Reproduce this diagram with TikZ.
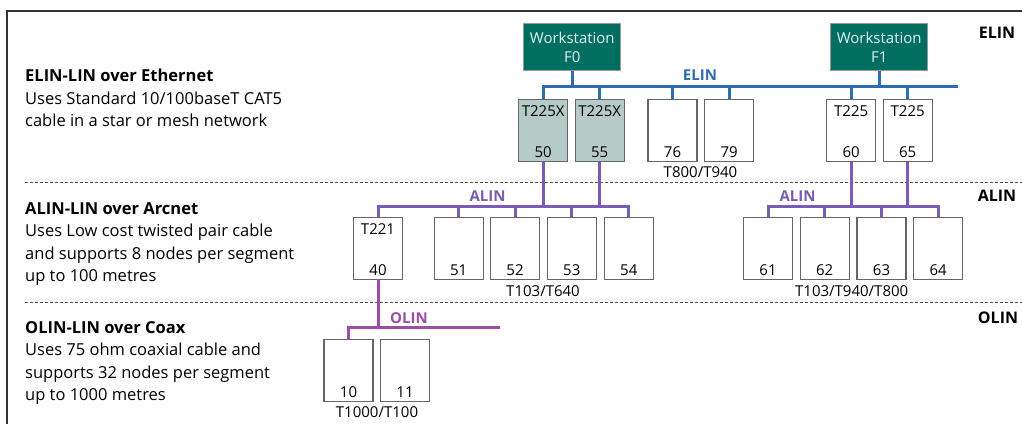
\documentclass[tikz,border=0pt]{standalone}
\usepackage{fontspec}
\setmainfont{Open Sans}
\usepackage{tikz}
\usetikzlibrary{calc}

\definecolor{wsteal}{HTML}{006E60}
\definecolor{wstext}{HTML}{E2F3EF}
\definecolor{unitgrey}{HTML}{B5CBC8}
\definecolor{elinblue}{HTML}{2E6DB5}
\definecolor{alinpurple}{HTML}{7A5BB5}
\definecolor{olinpurple}{HTML}{9C4DA6}

\begin{document}
\begin{tikzpicture}[x=1pt,y=-1pt,
    unit/.style={draw=black!60,line width=1.3pt,minimum width=49pt,minimum height=62pt,inner sep=0pt},
    ws/.style={draw=black!40,line width=1pt,fill=wsteal,text=wstext,minimum width=97pt,minimum height=46.6pt,
        inner sep=0pt,align=center,font=\fontsize{15}{19}\selectfont},
    toplab/.style={anchor=center,yshift=-12pt,font=\fontsize{15}{18}\selectfont},
    numlab/.style={anchor=center,yshift=10pt,font=\fontsize{15}{18}\selectfont},
    grouplab/.style={font=\fontsize{15}{18}\selectfont,inner sep=0pt},
    elin/.style={elinblue,line width=3pt},
    alin/.style={alinpurple,line width=3pt},
    olin/.style={olinpurple,line width=3pt},
    buslab/.style={font=\fontsize{15}{18}\selectfont\bfseries,inner sep=0pt},
    tag/.style={font=\fontsize{16}{18}\selectfont\bfseries,inner sep=0pt},
    desc/.style={anchor=west,align=left,inner sep=0pt,font=\fontsize{16.5}{22.5}\selectfont},
    sep/.style={black!70,line width=0.8pt,dash pattern=on 3pt off 2pt}]
    \useasboundingbox (0,0) rectangle (1022,424);
    \draw[black!80,line width=1.3pt] (7,424) -- (7,11) -- (1022,11);
    \draw[sep] (25,182.7) -- (1022,182.7);
    \draw[sep] (25,302.7) -- (1022,302.7);

    \node[desc] (elindesc) at (25,98) {\textbf{ELIN-LIN over Ethernet}\\Uses Standard 10/100baseT CAT5\\cable in a star or mesh network};
    \node[desc] (alindesc) at (25,244) {\textbf{ALIN-LIN over Arcnet}\\Uses Low cost twisted pair cable\\and supports 8 nodes per segment\\up to 100 metres};
    \node[desc] (olindesc) at (25,363) {\textbf{OLIN-LIN over Coax}\\Uses 75 ohm coaxial cable and\\supports 32 nodes per segment\\up to 1000 metres};

    \node[tag] (elintag) at (997,33) {ELIN};
    \node[tag] (alintag) at (997,196) {ALIN};
    \node[tag] (olintag) at (998,318) {OLIN};

    \node[ws] (f0) at (572.3,47) {Workstation\\F0};
    \node[ws] (f1) at (879.2,47) {Workstation\\F1};

    \node[unit,fill=unitgrey,label={[toplab]north:T225X},label={[numlab]south:50}] (b50) at (543.2,130.5) {};
    \node[unit,fill=unitgrey,label={[toplab]north:T225X},label={[numlab]south:55}] (b55) at (599.7,130.5) {};
    \node[unit,label={[numlab]south:76}] (b76) at (672.5,130.5) {};
    \node[unit,label={[numlab]south:79}] (b79) at (729.2,130.5) {};
    \node[unit,label={[toplab]north:T225},label={[numlab]south:60}] (b60) at (851.2,130.5) {};
    \node[unit,label={[toplab]north:T225},label={[numlab]south:65}] (b65) at (907.7,130.5) {};

    \node[unit,label={[toplab]north:T221},label={[numlab]south:40}] (b40) at (378,248.7) {};
    \node[unit,label={[numlab]south:51}] (b51) at (458.7,248.7) {};
    \node[unit,label={[numlab]south:52}] (b52) at (515,248.7) {};
    \node[unit,label={[numlab]south:53}] (b53) at (571.8,248.7) {};
    \node[unit,label={[numlab]south:54}] (b54) at (628.8,248.7) {};
    \node[unit,label={[numlab]south:61}] (b61) at (768,248.7) {};
    \node[unit,label={[numlab]south:62}] (b62) at (824.7,248.7) {};
    \node[unit,label={[numlab]south:63}] (b63) at (881.5,248.7) {};
    \node[unit,label={[numlab]south:64}] (b64) at (938.2,248.7) {};

    \node[unit,label={[numlab]south:10}] (b10) at (348.5,370.5) {};
    \node[unit,label={[numlab]south:11}] (b11) at (405,370.5) {};

    \node[grouplab] (t800) at (700.5,172) {T800/T940};
    \node[grouplab] (t640) at (543,291) {T103/T640};
    \node[grouplab] (t940) at (851.7,291) {T103/T940/T800};
    \node[grouplab] (t1000) at (377,412) {T1000/T100};

    % ELIN bus
    \coordinate (elinend) at (958,86.7);
    \draw[elin] (b50.north) |- (elinend);
    \draw[elin] (f0.south) -- (f0.south |- elinend);
    \draw[elin] (f1.south) -- (f1.south |- elinend);
    \draw[elin] (b55.north) -- (b55.north |- elinend);
    \draw[elin] (b76.north) -- (b76.north |- elinend);
    \draw[elin] (b79.north) -- (b79.north |- elinend);
    \draw[elin] (b60.north) -- (b60.north |- elinend);
    \draw[elin] (b65.north) -- (b65.north |- elinend);
    \node[buslab,text=elinblue] (elinlab) at (700,75) {ELIN};

    % ALIN buses
    \coordinate (alinbus) at (0,206.7);
    \draw[alin] (b40.north) |- (b54.north |- alinbus) -- (b54.north);
    \draw[alin] (b51.north) -- (b51.north |- alinbus);
    \draw[alin] (b52.north) -- (b52.north |- alinbus);
    \draw[alin] (b53.north) -- (b53.north |- alinbus);
    \draw[alin] (b50.south) -- (b50.south |- alinbus);
    \draw[alin] (b55.south) -- (b55.south |- alinbus);
    \draw[alin] (b61.north) |- (b64.north |- alinbus) -- (b64.north);
    \draw[alin] (b62.north) -- (b62.north |- alinbus);
    \draw[alin] (b63.north) -- (b63.north |- alinbus);
    \draw[alin] (b60.south) -- (b60.south |- alinbus);
    \draw[alin] (b65.south) -- (b65.south |- alinbus);
    \node[buslab,text=alinpurple] (alinlab1) at (487.5,196.5) {ALIN};
    \node[buslab,text=alinpurple] (alinlab2) at (797.5,196) {ALIN};

    % OLIN bus
    \coordinate (olinend) at (500,327.7);
    \draw[olin] (b10.north) |- (olinend);
    \draw[olin] (b40.south) -- (b40.south |- olinend);
    \node[buslab,text=olinpurple] (olinlab) at (409,318) {OLIN};
\end{tikzpicture}
\end{document}
